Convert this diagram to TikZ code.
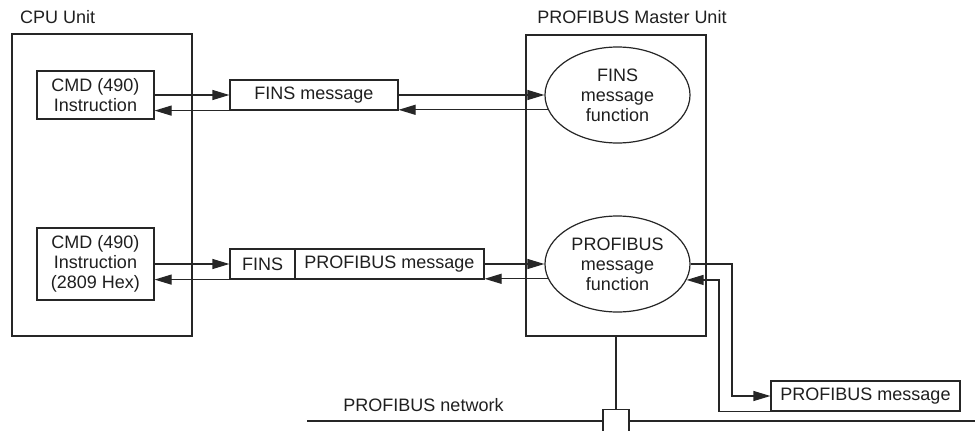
\documentclass[tikz,border=0pt]{standalone}
\usepackage{fontspec}
\setmainfont{Liberation Sans}
\usetikzlibrary{arrows.meta,shapes.geometric,calc}
\begin{document}
\begin{tikzpicture}[x=1pt,y=-1pt,
  every node/.style={font=\fontsize{18}{20}\selectfont, inner sep=0pt, align=center, text=black!88},
  line/.style={line width=1.2pt, draw=black!85},
  arr/.style={line width=1.2pt, draw=black!85, -{Triangle[length=17pt,width=10pt]}},
  box/.style={draw=black!85, line width=1.2pt, rectangle, fill=white},
  ell/.style={draw=black!85, line width=1.2pt, ellipse, fill=white, minimum width=145pt, minimum height=96pt}
]
\useasboundingbox (0,0) rectangle (975,431);

% units
\node[box, minimum width=180pt, minimum height=302pt] (cpu) at (102,185) {};
\node[anchor=west] (cpul) at (20,17) {CPU Unit};
\node[box, minimum width=180pt, minimum height=301pt] (master) at (616,185.5) {};
\node (masterl) at (632,17) {PROFIBUS Master Unit};

% inner nodes
\node[box, minimum width=117pt, minimum height=48pt] (cmd1) at (95.5,95) {CMD (490)\\Instruction};
\node[box, minimum width=117pt, minimum height=72pt] (cmd2) at (95.5,264) {CMD (490)\\Instruction\\(2809 Hex)};
\node[box, minimum width=168pt, minimum height=30pt] (fins) at (314,95) {FINS message};
\node[box, minimum width=65pt, minimum height=30pt] (finsA) at (262.5,264) {FINS};
\node[box, minimum width=189pt, minimum height=30pt] (pmsg) at (389.5,264) {PROFIBUS message};
\node[ell] (ell1) at (617.5,95) {FINS\\message\\function};
\node[ell] (ell2) at (617.5,264) {PROFIBUS\\message\\function};
\node[box, minimum width=189pt, minimum height=30pt] (rmsg) at (865.5,396) {PROFIBUS message};

% network
\coordinate (n1) at (307,421);
\coordinate (n2) at (975,421);
\draw[line] (n1) -- (n2);
\node[box, minimum width=26pt, minimum height=32pt, anchor=north] (conn) at (616,409) {};
\draw[line] (master.south) -- (conn.north);
\node (netl) at (423.5,405) {PROFIBUS network};

% row 1
\draw[arr] (cmd1.east |- fins.west) -- (fins.west);
\draw[arr] (fins.east) -- (ell1.west);
\draw[arr] (ell1.192.3) -- (ell1.192.3 -| fins.east);
\draw[arr] (fins.south west) -- (fins.south west -| cmd1.east);

% row 2
\draw[arr] (cmd2.east) -- (finsA.west);
\draw[arr] (pmsg.east) -- (ell2.west);
\draw[arr] (ell2.192.3) -- (ell2.192.3 -| pmsg.east);
\draw[arr] (finsA.south west) -- (finsA.south west -| cmd2.east);

% right side
\coordinate (r1) at (732,330);
\coordinate (r2) at (719,330);
\draw[arr] (ell2.east) -| (r1) |- (rmsg.west);
\draw[arr] (rmsg.south west) -| (r2) |- (ell2.347.7);
\end{tikzpicture}
\end{document}
